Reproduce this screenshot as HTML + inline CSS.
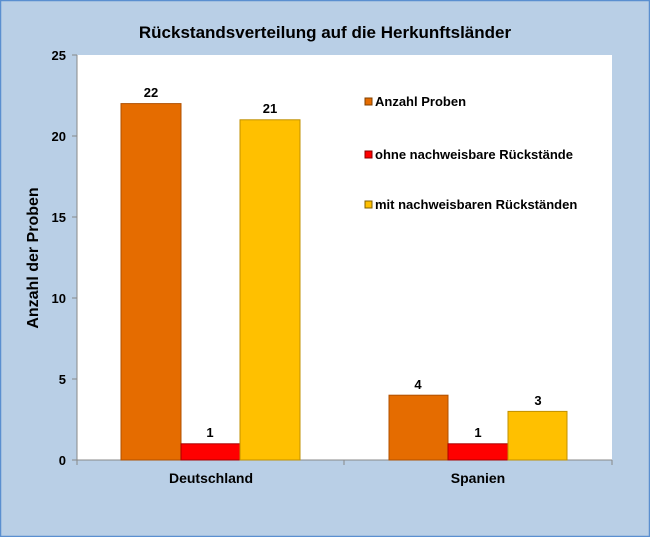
<!DOCTYPE html>
<html><head><meta charset="utf-8"><style>
body{margin:0;background:#b9cfe6}
svg{display:block;font-family:"Liberation Sans",sans-serif;font-weight:bold}
</style></head><body>
<svg width="650" height="537" xmlns="http://www.w3.org/2000/svg">
<rect x="0" y="0" width="650" height="537" fill="#b9cfe6"/>
<rect x="0.5" y="0.5" width="649" height="536" fill="none" stroke="#5a8fd0" stroke-width="1.5"/>
<text x="325" y="38" font-size="17" text-anchor="middle" fill="#000">Rückstandsverteilung  auf die Herkunftsländer</text>
<rect x="77" y="55" width="535" height="405" fill="#fff"/>
<line x1="77" y1="55" x2="77" y2="460" stroke="#888"/>
<line x1="77" y1="460" x2="612" y2="460" stroke="#888"/>
<g stroke="#888">
<line x1="72" y1="55" x2="77" y2="55"/><line x1="72" y1="136" x2="77" y2="136"/><line x1="72" y1="217" x2="77" y2="217"/><line x1="72" y1="298" x2="77" y2="298"/><line x1="72" y1="379" x2="77" y2="379"/><line x1="72" y1="460" x2="77" y2="460"/>
<line x1="344" y1="460" x2="344" y2="465"/><line x1="612" y1="460" x2="612" y2="465"/><line x1="77" y1="460" x2="77" y2="465"/>
</g>
<g font-size="13" text-anchor="end">
<text x="66" y="60">25</text><text x="66" y="141">20</text><text x="66" y="222">15</text><text x="66" y="303">10</text><text x="66" y="384">5</text><text x="66" y="465">0</text>
</g>
<text transform="translate(38,258) rotate(-90)" font-size="16" text-anchor="middle">Anzahl der Proben</text>
<g stroke-width="1">
<rect x="121" y="103.6" width="60" height="356.4" fill="#e56c00" stroke="#b05000"/>
<rect x="181" y="443.8" width="59" height="16.2" fill="#ff0000" stroke="#a00"/>
<rect x="240" y="119.8" width="60" height="340.2" fill="#ffc000" stroke="#c09000"/>
<rect x="389" y="395.2" width="59" height="64.8" fill="#e56c00" stroke="#b05000"/>
<rect x="448" y="443.8" width="60" height="16.2" fill="#ff0000" stroke="#a00"/>
<rect x="508" y="411.4" width="59" height="48.6" fill="#ffc000" stroke="#c09000"/>
</g>
<g font-size="13" text-anchor="middle">
<text x="151" y="97">22</text><text x="210" y="437">1</text><text x="270" y="113">21</text>
<text x="418" y="389">4</text><text x="478" y="437">1</text><text x="538" y="405">3</text>
</g>
<g font-size="14" text-anchor="middle">
<text x="211" y="483">Deutschland</text><text x="478" y="483">Spanien</text>
</g>
<g font-size="13">
<rect x="365" y="98" width="7" height="7" fill="#e56c00" stroke="#804000"/><text x="375" y="106">Anzahl Proben</text>
<rect x="365" y="151" width="7" height="7" fill="#ff0000" stroke="#800"/><text x="375" y="159">ohne nachweisbare Rückstände</text>
<rect x="365" y="201" width="7" height="7" fill="#ffc000" stroke="#806000"/><text x="375" y="209">mit nachweisbaren Rückständen</text>
</g>
</svg>
</body></html>
